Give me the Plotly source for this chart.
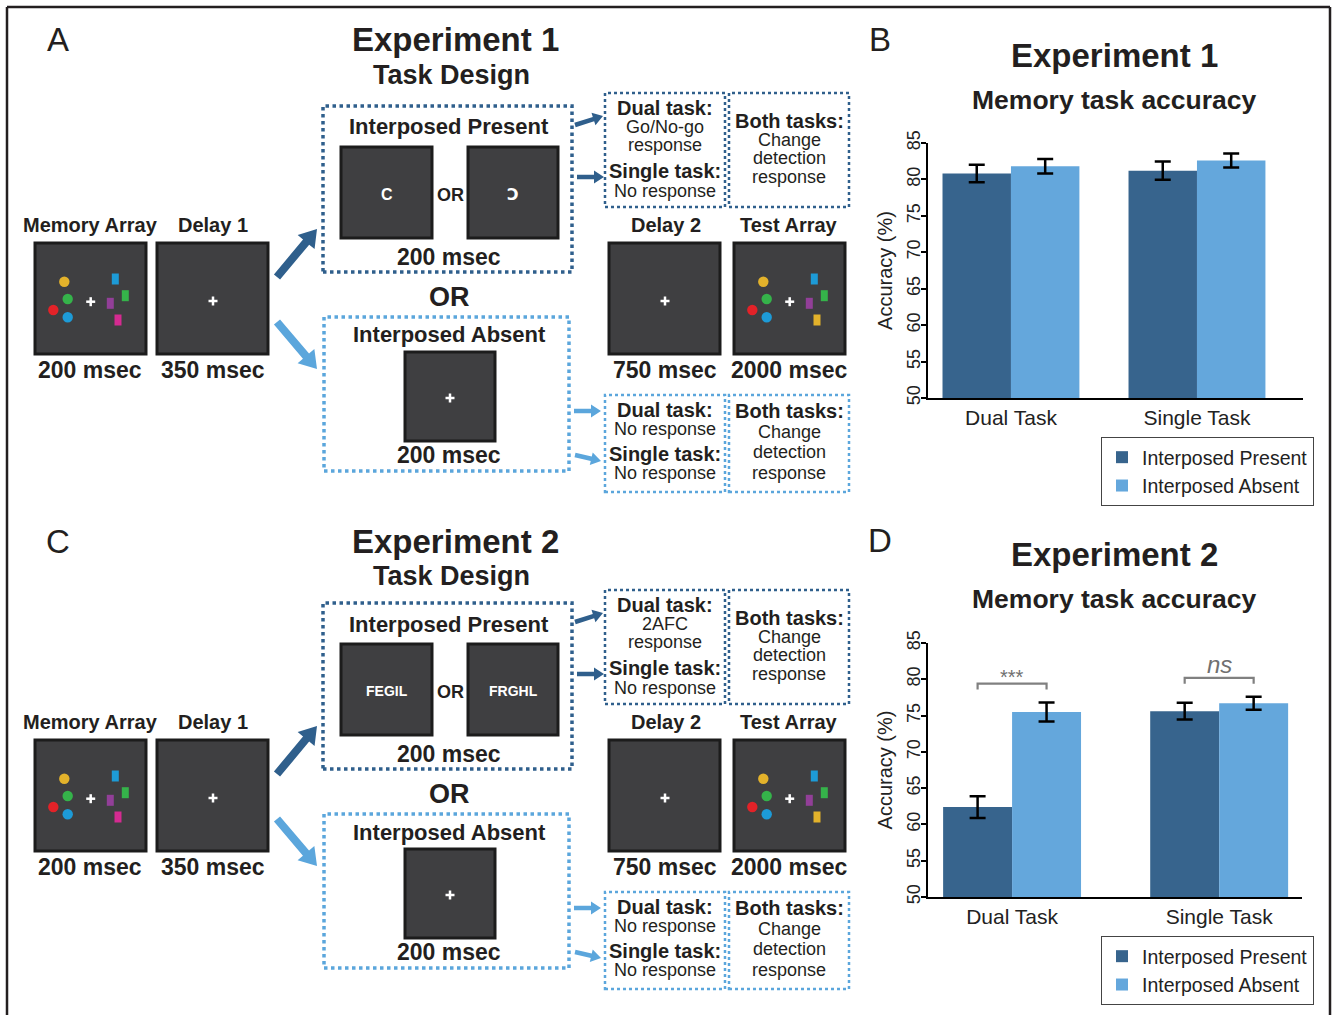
import math
import plotly.graph_objects as go

# ---------------- data ----------------
categories = ["Dual Task", "Single Task"]
cat_pos = [0, 1]
series_names = ["Interposed Present", "Interposed Absent"]

exp1_present = [80.8, 81.2]
exp1_present_err = [1.2, 1.25]
exp1_absent = [81.8, 82.6]
exp1_absent_err = [1.0, 0.95]

exp2_present = [62.4, 75.6]
exp2_present_err = [1.5, 1.15]
exp2_absent = [75.5, 76.7]
exp2_absent_err = [1.3, 0.9]

sig_labels_exp2 = ["***", "ns"]

y_ticks = [50, 55, 60, 65, 70, 75, 80, 85]

# ---------------- style ----------------
W, H = 1334, 1015
FF = "Liberation Sans, Arial, Helvetica, DejaVu Sans, sans-serif"
INK = "#231f20"
DARK = "#37648d"
LIGHT = "#64a7dc"
ARROW_DARK = "#2f5f8c"
ARROW_LIGHT = "#5ba6dc"
SCREEN = "#3f3f41"
STIM = {"yellow": "#e3b22b", "green": "#35b34a", "red": "#e32228",
        "blue": "#1d9bd7", "purple": "#923f98", "magenta": "#d42b91"}


def X(px):
    return px / W


def Y(py):
    return 1 - py / H


shapes = []
annotations = []


def txt(x, y, s, size, bold=False, color=INK, italic=False):
    t = s
    if bold:
        t = "<b>" + t + "</b>"
    if italic:
        t = "<i>" + t + "</i>"
    annotations.append(dict(x=X(x), y=Y(y), xref="paper", yref="paper", text=t,
                            showarrow=False, xanchor="center", yanchor="middle",
                            font=dict(family=FF, size=size, color=color)))


def rect(x0, y0, x1, y1, line_color, line_width, fill=None, dash="solid"):
    shapes.append(dict(type="rect", xref="paper", yref="paper",
                       x0=X(x0), x1=X(x1), y0=Y(y1), y1=Y(y0),
                       line=dict(color=line_color, width=line_width, dash=dash),
                       fillcolor=fill if fill else "rgba(0,0,0,0)", layer="above"))


def line(x0, y0, x1, y1, color, width):
    shapes.append(dict(type="line", xref="paper", yref="paper",
                       x0=X(x0), x1=X(x1), y0=Y(y0), y1=Y(y1),
                       line=dict(color=color, width=width), layer="above"))


def circle(cx, cy, r, color):
    shapes.append(dict(type="circle", xref="paper", yref="paper",
                       x0=X(cx - r), x1=X(cx + r), y0=Y(cy + r), y1=Y(cy - r),
                       line=dict(width=0), fillcolor=color, layer="above"))


def fillrect(cx, cy, w, h, color):
    shapes.append(dict(type="rect", xref="paper", yref="paper",
                       x0=X(cx - w / 2), x1=X(cx + w / 2), y0=Y(cy + h / 2), y1=Y(cy - h / 2),
                       line=dict(width=0), fillcolor=color, layer="above"))


def cross(cx, cy, s=4.5, w=2.5):
    line(cx - s, cy, cx + s, cy, "white", w)
    line(cx, cy - s, cx, cy + s, "white", w)


def arrow(x0, y0, x1, y1, w, hl, hw, color):
    dx, dy = x1 - x0, y1 - y0
    L = math.hypot(dx, dy)
    ux, uy = dx / L, dy / L
    nx, ny = -uy, ux
    bx, by = x1 - ux * hl, y1 - uy * hl
    pts = [(x0 + nx * w / 2, y0 + ny * w / 2), (bx + nx * w / 2, by + ny * w / 2),
           (bx + nx * hw / 2, by + ny * hw / 2), (x1, y1),
           (bx - nx * hw / 2, by - ny * hw / 2), (bx - nx * w / 2, by - ny * w / 2),
           (x0 - nx * w / 2, y0 - ny * w / 2)]
    path = "M " + " L ".join(f"{X(a):.5f},{Y(b):.5f}" for a, b in pts) + " Z"
    shapes.append(dict(type="path", xref="paper", yref="paper", path=path,
                       line=dict(width=0), fillcolor=color, layer="above"))


def screen(x0, y0, x1, y1):
    rect(x0, y0, x1, y1, "#1c1c1c", 3, fill=SCREEN)


def array_stim(bx, by, last_color):
    circle(bx + 29.3, by + 38.7, 5.2, STIM["yellow"])
    circle(bx + 32.7, by + 56.0, 5.2, STIM["green"])
    circle(bx + 18.3, by + 67.0, 5.2, STIM["red"])
    circle(bx + 32.7, by + 74.3, 5.2, STIM["blue"])
    cross(bx + 55.7, by + 58.7)
    fillrect(bx + 80.3, by + 36.0, 7, 11, STIM["blue"])
    fillrect(bx + 90.3, by + 52.7, 7, 11, STIM["green"])
    fillrect(bx + 75.3, by + 60.3, 7, 11, STIM["purple"])
    fillrect(bx + 83.0, by + 77.0, 7, 11, STIM[last_color])


def design_panel(dy, tdy, letter, exp_title, stim_left, stim_right, stim_size, dual_lines):
    txt(58, 40 + tdy, letter, 33)
    txt(455, 40 + tdy, exp_title, 33, bold=True)
    txt(452, 75 + tdy, "Task Design", 27, bold=True)

    txt(90, 225 + dy, "Memory Array", 20, bold=True)
    txt(213, 225 + dy, "Delay 1", 20, bold=True)
    screen(35, 243 + dy, 146, 354 + dy)
    array_stim(35, 243 + dy, "magenta")
    screen(157, 243 + dy, 268, 354 + dy)
    cross(213, 301 + dy)
    txt(90, 370 + dy, "200 msec", 23, bold=True)
    txt(213, 370 + dy, "350 msec", 23, bold=True)

    arrow(277, 277 + dy, 317, 229 + dy, 8, 17, 22, ARROW_DARK)
    arrow(277, 322 + dy, 317, 369 + dy, 8, 17, 22, ARROW_LIGHT)

    # interposed present
    rect(323, 106 + dy, 572, 272 + dy, ARROW_DARK, 3.5, dash="dot")
    txt(449, 127 + dy, "Interposed Present", 22, bold=True)
    screen(341, 147 + dy, 432, 238 + dy)
    screen(468, 147 + dy, 558, 238 + dy)
    txt(387, 194 + dy, stim_left, stim_size, bold=True, color="white")
    txt(513, 194 + dy, stim_right, stim_size, bold=True, color="white")
    txt(450, 195 + dy, "OR", 18, bold=True)
    txt(449, 257 + dy, "200 msec", 23, bold=True)

    txt(449, 297 + dy, "OR", 27, bold=True)

    # interposed absent
    rect(324, 317 + dy, 569, 471 + dy, ARROW_LIGHT, 3.5, dash="dot")
    txt(449, 335 + dy, "Interposed Absent", 22, bold=True)
    screen(405, 352 + dy, 495, 441 + dy)
    cross(450, 398 + dy)
    txt(449, 455 + dy, "200 msec", 23, bold=True)

    # response boxes (upper, present)
    arrow(575, 125 + dy, 603, 116 + dy, 4.5, 10, 13, ARROW_DARK)
    arrow(577, 177 + dy, 604, 177 + dy, 4.5, 10, 13, ARROW_DARK)
    rect(605, 93 + dy, 725, 207 + dy, ARROW_DARK, 2.5, dash="dot")
    rect(729, 93 + dy, 849, 207 + dy, ARROW_DARK, 2.5, dash="dot")
    txt(665, 108 + dy, "Dual task:", 20, bold=True)
    txt(665, 127 + dy, dual_lines[0], 18)
    txt(665, 145 + dy, dual_lines[1], 18)
    txt(665, 171 + dy, "Single task:", 20, bold=True)
    txt(665, 191 + dy, "No response", 18)
    txt(789, 121 + dy, "Both tasks:", 20, bold=True)
    txt(789, 140 + dy, "Change", 18)
    txt(789, 158 + dy, "detection", 18)
    txt(789, 177 + dy, "response", 18)

    # delay 2 / test array
    txt(666, 225 + dy, "Delay 2", 20, bold=True)
    txt(789, 225 + dy, "Test Array", 20, bold=True)
    screen(609, 243 + dy, 720, 354 + dy)
    cross(665, 301 + dy)
    screen(734, 243 + dy, 845, 354 + dy)
    array_stim(734, 243 + dy, "yellow")
    txt(665, 370 + dy, "750 msec", 23, bold=True)
    txt(789, 370 + dy, "2000 msec", 23, bold=True)

    # response boxes (lower, absent)
    arrow(574, 411 + dy, 601, 411 + dy, 4.5, 10, 13, ARROW_LIGHT)
    arrow(575, 455 + dy, 601, 461 + dy, 4.5, 10, 13, ARROW_LIGHT)
    rect(605, 395 + dy, 725, 492 + dy, ARROW_LIGHT, 2.5, dash="dot")
    rect(729, 395 + dy, 849, 492 + dy, ARROW_LIGHT, 2.5, dash="dot")
    txt(665, 410 + dy, "Dual task:", 20, bold=True)
    txt(665, 429 + dy, "No response", 18)
    txt(665, 454 + dy, "Single task:", 20, bold=True)
    txt(665, 473 + dy, "No response", 18)
    txt(789, 411 + dy, "Both tasks:", 20, bold=True)
    txt(789, 432 + dy, "Change", 18)
    txt(789, 452 + dy, "detection", 18)
    txt(789, 473 + dy, "response", 18)


design_panel(0, 0, "A", "Experiment 1", "C", "Ↄ", 16, ["Go/No-go", "response"])
design_panel(497, 501, "C", "Experiment 2", "FEGIL", "FRGHL", 14, ["2AFC", "response"])

# bar panel headers
txt(880, 40, "B", 33)
txt(1114, 55, "Experiment 1", 33, bold=True)
txt(1114, 100, "Memory task accuracy", 26.5, bold=True)
txt(880, 540, "D", 33)
txt(1114, 554, "Experiment 2", 33, bold=True)
txt(1114, 599, "Memory task accuracy", 26.5, bold=True)

# frame
line(7, 7, 1330, 7, INK, 2.5)
line(7, 7, 7, 1015, INK, 2.5)
line(1330, 7, 1330, 1015, INK, 2.5)

# ---------------- bars ----------------
fig = go.Figure()

bw1 = 0.368
bw2 = 0.333


def add_bars(vals, errs, name, color, offset, width, xa, ya, legend):
    fig.add_trace(go.Bar(
        x=cat_pos, y=vals, name=name, marker=dict(color=color, line=dict(width=0)),
        width=width, offset=offset, xaxis=xa, yaxis=ya, legend=legend,
        error_y=dict(type="data", array=errs, visible=True, color="black",
                     thickness=2.5, width=8)))


add_bars(exp1_present, exp1_present_err, series_names[0], DARK, -bw1, bw1, "x", "y", "legend")
add_bars(exp1_absent, exp1_absent_err, series_names[1], LIGHT, 0, bw1, "x", "y", "legend")
add_bars(exp2_present, exp2_present_err, series_names[0], DARK, -bw2, bw2, "x2", "y2", "legend2")
add_bars(exp2_absent, exp2_absent_err, series_names[1], LIGHT, 0, bw2, "x2", "y2", "legend2")

# significance brackets (Experiment 2)
for i, lab in enumerate(sig_labels_exp2):
    top = max(exp2_present[i] + exp2_present_err[i], exp2_absent[i] + exp2_absent_err[i])
    yb = top + 2.6
    xl = cat_pos[i] - bw2 / 2
    xr = cat_pos[i] + bw2 / 2
    shapes.append(dict(type="path", xref="x2", yref="y2",
                       path=f"M {xl},{yb - 0.8} L {xl},{yb} L {xr},{yb} L {xr},{yb - 0.8}",
                       line=dict(color="#808080", width=2.2)))
    is_ns = lab == "ns"
    annotations.append(dict(x=cat_pos[i], y=yb, xref="x2", yref="y2",
                            text="<i>ns</i>" if is_ns else lab, showarrow=False,
                            yanchor="bottom", xanchor="center", yshift=-2 if is_ns else -6,
                            font=dict(family=FF, size=24 if is_ns else 20, color="#707070")))

axis_common_y = dict(range=[50, 85], tickvals=y_ticks, ticks="outside", ticklen=5, tickwidth=2,
                     tickcolor="black", showline=True, linewidth=2, linecolor="black",
                     showgrid=False, zeroline=False, tickangle=-90, automargin=False,
                     tickfont=dict(family=FF, size=18, color="#222"),
                     title=dict(text="Accuracy (%)", font=dict(family=FF, size=20, color="#222"),
                                standoff=6))
axis_common_x = dict(tickvals=cat_pos, ticktext=categories, ticks="", showline=True,
                     linewidth=2, linecolor="black", showgrid=False, zeroline=False,
                     automargin=False,
                     tickfont=dict(family=FF, size=21, color="#222"))

legend_common = dict(xanchor="left", yanchor="top", bordercolor="#444", borderwidth=1,
                     bgcolor="white", font=dict(family=FF, size=19.5, color="#222"),
                     tracegroupgap=0)

fig.update_layout(
    width=W, height=H, autosize=False,
    margin=dict(l=0, r=0, t=0, b=0, pad=0, autoexpand=False),
    paper_bgcolor="white", plot_bgcolor="white",
    barmode="overlay",
    xaxis=dict(domain=[X(928), X(1303)], range=[-0.446, 1.57], anchor="y", **axis_common_x),
    yaxis=dict(domain=[Y(398), Y(143)], anchor="x", **axis_common_y),
    xaxis2=dict(domain=[X(928), X(1302)], range=[-0.406, 1.40], anchor="y2", **axis_common_x),
    yaxis2=dict(domain=[Y(897), Y(643)], anchor="x2", **axis_common_y),
    legend=dict(x=X(1101), y=Y(437), **legend_common),
    legend2=dict(x=X(1101), y=Y(936), **legend_common),
    shapes=shapes,
    annotations=annotations,
)

try:
    fig.update_yaxes(ticklabelstandoff=-6)
except Exception:
    pass

fig.write_html("out.html", post_script="document.body.style.margin='0';",
               config={"displayModeBar": False})
